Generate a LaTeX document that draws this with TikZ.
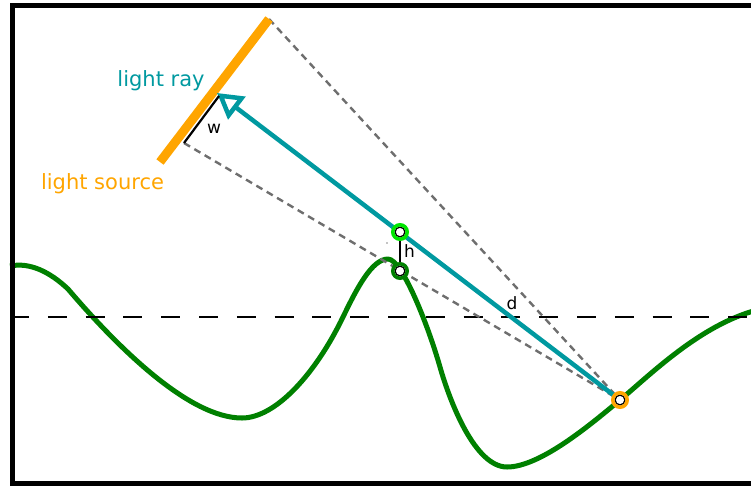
\documentclass[tikz,border=0pt]{standalone}
\usepackage{fontspec}
\setmainfont{DejaVu Sans}
\usetikzlibrary{arrows.meta}
\definecolor{rayc}{RGB}{0,153,160}
\definecolor{srcc}{RGB}{255,165,0}
\definecolor{terr}{RGB}{0,128,0}
\definecolor{limec}{RGB}{0,230,0}
\definecolor{dgray}{RGB}{110,110,110}
\begin{document}
\begin{tikzpicture}[x=1pt,y=-1pt,
  marker/.style={circle, draw=#1, line width=3.5pt, fill=white, minimum size=14.5pt, inner sep=0pt,
    path picture={\draw[black, line width=1.3pt] (path picture bounding box.center) circle (4.9pt);}},
  biglbl/.style={inner sep=0pt, anchor=base, font=\fontsize{21}{25}\selectfont},
  smalllbl/.style={inner sep=0pt, anchor=base, font=\fontsize{17}{20}\selectfont},
  guide/.style={dgray, line width=2.4pt, dash pattern=on 7pt off 5pt},
  measure/.style={black, line width=2.2pt}]
\useasboundingbox (0,0) rectangle (751,485);
\clip (0,0) rectangle (751,485);
% key points
\coordinate (S1) at (269,19);
\coordinate (S2) at (160,162);
\coordinate (O) at (620,400);
\coordinate (P) at (400,232);
\coordinate (G) at (400,271);
\coordinate (A) at (217,93);
\coordinate (W1) at (219,96);
\coordinate (W2) at (184,143);
\coordinate (H1) at (400,239);
\coordinate (H2) at (400,264);
\coordinate (L1) at (10,317);
\coordinate (L2) at (760,317);
% terrain
\draw[terr, line width=5pt, line join=round]
  (10,266) .. controls (30,262) and (50,272) .. (68,289)
  .. controls (120,350) and (190,418) .. (242,418)
  .. controls (275,418) and (315,375) .. (343,317)
  .. controls (357,288) and (372,259) .. (388,259)
  .. controls (402,259) and (428,325) .. (440,367)
  .. controls (450,402) and (475,467) .. (507,467)
  .. controls (540,467) and (590,425) .. (620,400)
  .. controls (650,375) and (700,325) .. (757,310);
% horizon dashed line
\draw[black, line width=2.6pt, dash pattern=on 19pt off 18.8pt] (L1) -- (L2);
% guide lines
\draw[guide] (S1) -- (O);
\draw[guide] (W2) -- (O);
% light source
\draw[srcc, line width=9pt] (S2) -- (S1);
% ray
\draw[rayc, line width=4.5pt, -{Triangle[open, length=25pt, width=28pt, line join=miter]}] (O) -- (A);
% measures
\draw[measure] (W1) -- (W2);
\draw[measure] (H1) -- (H2);
\fill[black] (387,243) circle (0.7pt);
% markers
\node[marker=limec] (Pm) at (P) {};
\node[marker=terr] (Gm) at (G) {};
\node[marker=srcc] (Om) at (O) {};
% labels
\node[biglbl, text=rayc] (lray) at (161,86) {light ray};
\node[biglbl, text=srcc] (lsrc) at (102.5,189) {light source};
\node[smalllbl] (lw) at (214,133) {w};
\node[smalllbl] (lh) at (409.5,257) {h};
\node[smalllbl] (ld) at (512,309) {d};
% frame
\draw[black, line width=5pt] (12.5,5) rectangle (800,483);
\end{tikzpicture}
\end{document}
